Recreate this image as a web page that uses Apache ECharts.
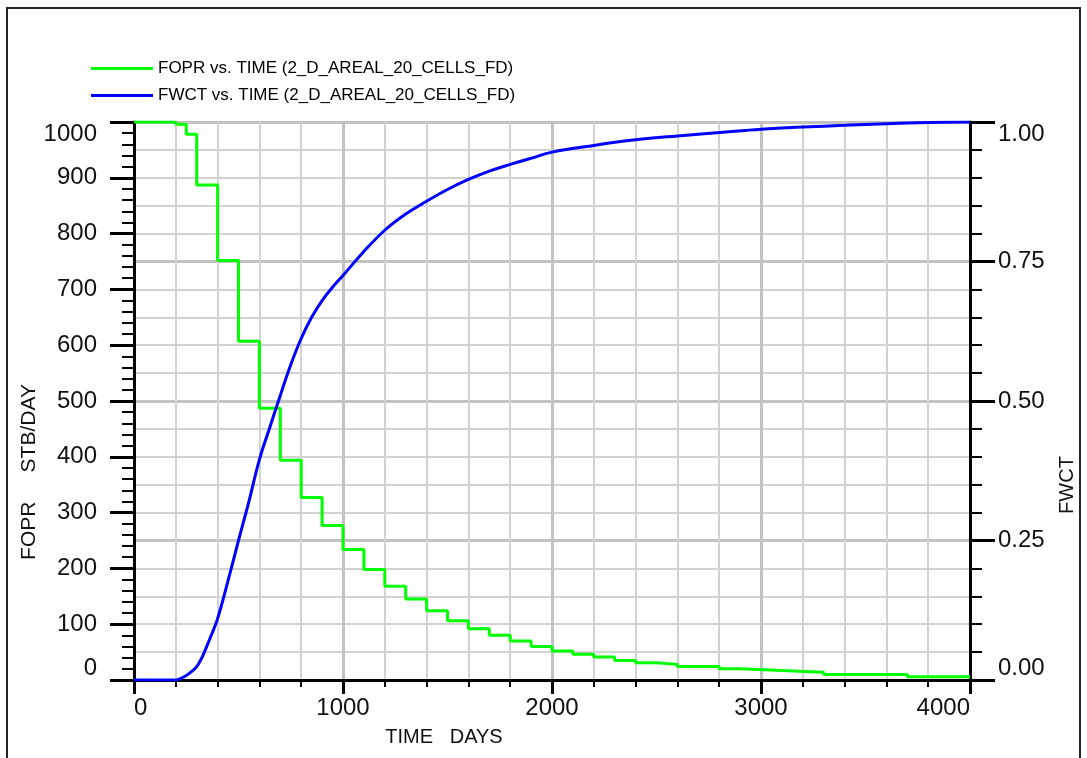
<!DOCTYPE html>
<html>
<head>
<meta charset="UTF-8">
<title>FOPR / FWCT vs. TIME</title>
<script src="https://cdn.jsdelivr.net/npm/echarts@6/dist/echarts.min.js"></script>
<style>
  body { margin: 0; background: #fff; overflow: hidden; }
  #chart { width: 1087px; height: 758px; }
</style>
</head>
<body>
<div id="chart"></div>
<script>
// FOPR: step rate, value holds from day until next day
const foprDays = [0, 200, 250, 300, 400, 500, 600, 700, 800, 900, 1000, 1100, 1200, 1300, 1400, 1500, 1600, 1700, 1800, 1900, 2000, 2100, 2200, 2300, 2400, 2500, 2600, 2800, 2900, 3100, 3300, 3700, 4000]
const foprValues = [1000, 996, 978, 887, 752, 607, 487, 394, 327, 277, 234, 198, 168, 145, 124, 106, 92, 80, 70, 60, 52, 46, 41, 35, 31, 28, 24, 20, 17, 14, 10, 6, 6]

// FWCT: water cut
const fwctDays = [0, 200, 225, 250, 275, 300, 325, 350, 375, 400, 450, 500, 550, 600, 650, 700, 750, 800, 850, 900, 950, 1000, 1100, 1200, 1300, 1400, 1500, 1600, 1700, 1800, 1900, 2000, 2200, 2400, 2600, 2800, 3000, 3200, 3400, 3600, 3800, 4000]
const fwctValues = [0, 0, 0.003, 0.008, 0.015, 0.024, 0.040, 0.062, 0.085, 0.110, 0.178, 0.250, 0.320, 0.395, 0.453, 0.510, 0.565, 0.612, 0.650, 0.680, 0.704, 0.725, 0.768, 0.806, 0.835, 0.858, 0.879, 0.897, 0.912, 0.924, 0.935, 0.946, 0.958, 0.968, 0.975, 0.981, 0.987, 0.991, 0.994, 0.997, 0.999, 1.0]

const seriesNames = ['FOPR vs. TIME (2_D_AREAL_20_CELLS_FD)', 'FWCT vs. TIME (2_D_AREAL_20_CELLS_FD)']

const tickFont = 'Liberation Sans'
const minorGrid = { show: true, lineStyle: { color: '#d2d2d2', width: 2 } }
const majorGrid = { show: true, lineStyle: { color: '#c2c2c2', width: 3 } }

const chart = echarts.init(document.getElementById('chart'), null, { renderer: 'canvas' })

chart.setOption({
  animation: false,
  backgroundColor: '#fff',
  legend: {
    orient: 'vertical',
    left: 86,
    top: 54,
    icon: 'rect',
    itemWidth: 62,
    itemHeight: 3,
    itemGap: 8,
    textStyle: { fontFamily: tickFont, fontSize: 17, color: '#000', lineHeight: 19 },
    data: seriesNames
  },
  grid: { left: 134, right: 117, top: 122, bottom: 78 },
  xAxis: {
    type: 'value',
    min: 0,
    max: 4000,
    interval: 1000,
    axisLine: { lineStyle: { color: '#000', width: 3 } },
    axisTick: { length: 14, lineStyle: { color: '#000', width: 3 } },
    minorTick: { show: true, splitNumber: 5, length: 7, lineStyle: { color: '#000', width: 2 } },
    splitLine: majorGrid,
    minorSplitLine: minorGrid,
    axisLabel: {
      margin: 16,
      fontFamily: tickFont,
      fontSize: 24,
      color: '#111',
      formatter: v => String(v),
      alignMinLabel: 'left',
      alignMaxLabel: 'right'
    }
  },
  yAxis: [
    {
      type: 'value',
      min: 0,
      max: 1000,
      interval: 100,
      axisLine: { show: true, lineStyle: { color: '#000', width: 3 } },
      axisTick: { length: 24, lineStyle: { color: '#000', width: 3 } },
      minorTick: { show: true, splitNumber: 5, length: 12, lineStyle: { color: '#000', width: 2 } },
      splitLine: { show: false },
      axisLabel: {
        margin: 37,
        fontFamily: tickFont,
        fontSize: 24,
        color: '#111',
        formatter: v => String(v),
        verticalAlignMinLabel: 'bottom',
        verticalAlignMaxLabel: 'top'
      }
    },
    {
      type: 'value',
      position: 'right',
      min: 0,
      max: 1,
      interval: 0.25,
      axisLine: { show: true, lineStyle: { color: '#000', width: 3 } },
      axisTick: { length: 25, lineStyle: { color: '#000', width: 3 } },
      minorTick: { show: true, splitNumber: 5, length: 12, lineStyle: { color: '#000', width: 2 } },
      splitLine: majorGrid,
      minorSplitLine: minorGrid,
      axisLabel: {
        margin: 28,
        fontFamily: tickFont,
        fontSize: 24,
        color: '#111',
        formatter: v => v.toFixed(2),
        verticalAlignMinLabel: 'bottom',
        verticalAlignMaxLabel: 'top'
      }
    }
  ],
  graphic: [
    {
      type: 'rect',
      shape: { x: 7, y: 8, width: 1073, height: 780 },
      style: { fill: 'none', stroke: '#222', lineWidth: 2 },
      silent: true
    },
    {
      type: 'text',
      x: 29, y: 472,
      rotation: Math.PI / 2,
      style: { text: 'FOPR     STB/DAY', fontFamily: tickFont, fontSize: 21, fill: '#111', align: 'center', verticalAlign: 'middle' }
    },
    {
      type: 'text',
      x: 1067, y: 485,
      rotation: Math.PI / 2,
      style: { text: 'FWCT', fontFamily: tickFont, fontSize: 20, fill: '#111', align: 'center', verticalAlign: 'middle' }
    },
    {
      type: 'text',
      x: 444, y: 737,
      style: { text: 'TIME   DAYS', fontFamily: tickFont, fontSize: 20, fill: '#111', align: 'center', verticalAlign: 'middle' }
    }
  ],
  series: [
    {
      name: seriesNames[0],
      type: 'line',
      yAxisIndex: 0,
      step: 'end',
      symbol: 'none',
      lineStyle: { color: '#00ff00', width: 3 },
      itemStyle: { color: '#00ff00' },
      data: foprDays.map((d, i) => [d, foprValues[i]])
    },
    {
      name: seriesNames[1],
      type: 'line',
      yAxisIndex: 1,
      smooth: 0.4,
      symbol: 'none',
      lineStyle: { color: '#0000ff', width: 3 },
      itemStyle: { color: '#0000ff' },
      data: fwctDays.map((d, i) => [d, fwctValues[i]])
    }
  ]
})
</script>
</body>
</html>
